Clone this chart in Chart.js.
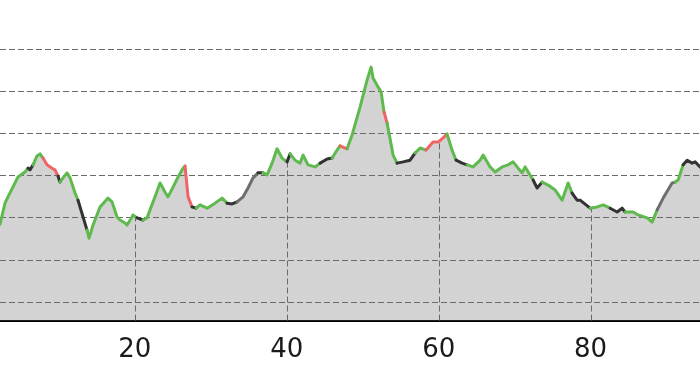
<!DOCTYPE html>
<html>
<head>
<meta charset="utf-8">
<script src="https://cdn.jsdelivr.net/npm/chart.js@4"></script>
<style>
  html, body { margin: 0; padding: 0; background: #fff; }
  #wrap { width: 700px; height: 373px; }
</style>
</head>
<body>
<div id="wrap"><canvas id="profile"></canvas></div>
<script>
// distance (km) and elevation (m)
const km = [2.25, 2.91, 3.30, 4.23, 4.62, 5.54, 5.94, 6.20, 6.60, 7.12, 7.52, 7.91, 8.44, 9.10, 9.49, 9.89,
    10.15, 10.55, 11.07, 11.47, 12.13, 12.52, 13.71, 13.97, 14.50, 15.42, 16.47, 17.00, 17.66, 18.05, 18.71, 18.97,
    19.63, 19.76, 20.29, 21.08, 21.61, 22.00, 22.66, 23.32, 23.98, 24.37, 25.03, 25.69, 26.35, 26.61, 27.01, 27.53,
    28.06, 28.58, 29.51, 30.56, 31.48, 32.14, 32.80, 33.45, 34.25, 34.90, 35.56, 36.22, 36.88, 37.41, 38.07, 38.72,
    39.38, 40.04, 40.44, 41.09, 41.75, 42.15, 42.80, 43.72, 44.39, 45.31, 45.97, 46.62, 47.02, 47.94, 48.60, 49.65,
    50.57, 51.10, 51.36, 52.02, 52.42, 52.81, 53.21, 54.00, 54.52, 55.31, 56.23, 56.89, 57.55, 58.34, 59.26, 59.92,
    60.58, 61.10, 61.76, 62.29, 63.08, 63.74, 64.53, 65.45, 65.85, 66.77, 67.43, 68.35, 69.14, 69.80, 70.46, 70.98,
    71.38, 72.43, 72.96, 73.61, 74.40, 75.33, 76.25, 77.04, 77.56, 78.22, 78.62, 79.93, 80.86, 81.65, 82.57, 83.49,
    84.15, 84.54, 85.60, 86.25, 87.44, 88.10, 88.76, 89.55, 90.73, 91.13, 91.52, 92.18, 92.71, 93.36, 93.76, 94.41];
const elevation = [284, 334, 349, 382, 396, 408, 417, 413, 425, 446, 451, 441, 425, 417, 413, 398,
    384, 394, 406, 394, 358, 341, 270, 251, 282, 325, 346, 337, 301, 294, 287, 282,
    301, 306, 299, 294, 299, 318, 349, 382, 360, 349, 372, 396, 417, 422, 349, 325,
    322, 330, 322, 334, 346, 334, 332, 337, 349, 370, 394, 406, 406, 401, 429, 463,
    441, 432, 451, 436, 429, 448, 425, 420, 429, 439, 441, 460, 470, 463, 496, 562,
    626, 657, 631, 610, 598, 550, 524, 448, 429, 432, 436, 453, 465, 460, 479, 479,
    489, 498, 460, 436, 429, 425, 420, 436, 448, 420, 408, 420, 425, 432, 417, 406,
    420, 389, 370, 384, 377, 365, 341, 382, 358, 341, 341, 322, 325, 330, 322, 313,
    322, 313, 313, 306, 299, 289, 318, 346, 382, 384, 389, 425, 436, 429, 432, 420];
// colour class of the segment that starts at each point
const segClass = 'GGGGGGKKGGGRRRRKGGGGGKGGGGGGGGGGGGKGGGGGGGGGGRRKGGGGGKKLLLLKGGGGGKGGGGGGKKGGRGGGGGGGGRGGKKKGGRRRRGGKKGGGGGGGGGGGGKKGGGGGKKKGGGKKKGGGGGLLLGGKKKKKK';
const xTicks = [20, 40, 60, 80];
const yTicks = [100, 200, 300, 400, 500, 600, 700];

const segColors = { G: '#5fba4e', R: '#f06464', K: '#333333', L: '#6e6e6e' };
const points = km.map((d, i) => ({ x: d, y: elevation[i] }));

function elevAt(d) {
    for (let i = 1; i < km.length; i++) {
        if (km[i] >= d) {
            const t = (d - km[i - 1]) / (km[i] - km[i - 1]);
            return elevation[i - 1] + t * (elevation[i] - elevation[i - 1]);
        }
    }
    return elevation[elevation.length - 1];
}

// dashed grid drawn over the grey fill, under the coloured line
const gridPlugin = {
    id: 'profileGrid',
    afterDatasetDraw(chart, args) {
        if (args.index !== 1) return;
        const { ctx, chartArea } = chart;
        const xs = chart.scales.x, ys = chart.scales.y;
        ctx.save();
        ctx.strokeStyle = '#6a6a6a';
        ctx.lineWidth = 1;
        ctx.setLineDash([6, 3]);
        yTicks.forEach(v => {
            const y = Math.round(ys.getPixelForValue(v)) + 0.5;
            ctx.beginPath();
            ctx.moveTo(chartArea.left, y);
            ctx.lineTo(chartArea.right, y);
            ctx.stroke();
        });
        xTicks.forEach(v => {
            const x = Math.round(xs.getPixelForValue(v)) + 0.5;
            ctx.beginPath();
            ctx.moveTo(x, chartArea.bottom);
            ctx.lineTo(x, ys.getPixelForValue(elevAt(v)));
            ctx.stroke();
        });
        ctx.restore();
    }
};

const ctx = document.getElementById('profile').getContext('2d');
const profileChart = new Chart(ctx, {
    type: 'line',
    data: {
        datasets: [{
            data: points,
            order: 1,
            fill: false,
            borderWidth: 3,
            pointRadius: 0,
            tension: 0,
            borderJoinStyle: 'round',
            borderCapStyle: 'round',
            segment: {
                borderColor: c => segColors[segClass[c.p0DataIndex]]
            }
        }, {
            data: points,
            order: 2,
            fill: 'start',
            backgroundColor: '#d3d3d3',
            borderWidth: 0,
            pointRadius: 0,
            tension: 0
        }]
    },
    options: {
        animation: false,
        maintainAspectRatio: false,
        responsive: true,
        layout: { padding: 0 },
        plugins: {
            legend: { display: false },
            tooltip: { enabled: false }
        },
        scales: {
            x: {
                type: 'linear',
                min: 2.25,
                max: 94.4,
                afterBuildTicks: s => { s.ticks = xTicks.map(v => ({ value: v })); },
                afterFit: s => { s.height = 52.5; },
                grid: { display: false },
                border: { display: true, color: '#000', width: 2 },
                ticks: {
                    padding: 6,
                    color: '#1a1a1a',
                    font: { family: 'DejaVu Sans', size: 26 },
                    maxRotation: 0
                }
            },
            y: {
                min: 55.4,
                max: 816.3,
                afterBuildTicks: s => { s.ticks = yTicks.map(v => ({ value: v })); },
                grid: { display: false, drawTicks: false },
                border: { display: false },
                ticks: { display: false }
            }
        }
    },
    plugins: [gridPlugin]
});
</script>
</body>
</html>
